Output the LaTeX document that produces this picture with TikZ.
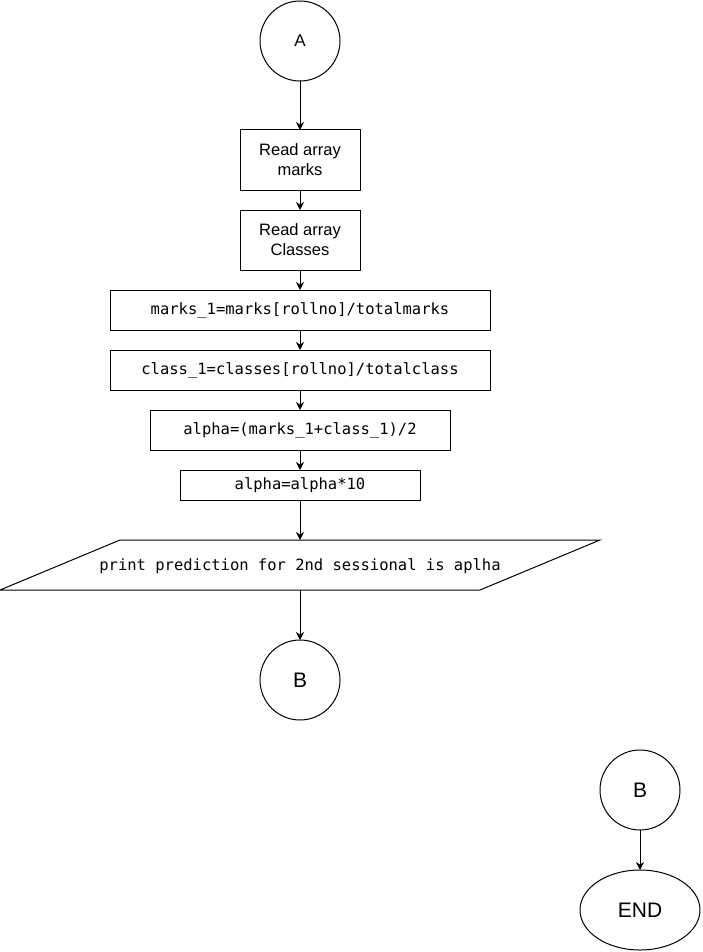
\documentclass[tikz,border=0pt]{standalone}
\usepackage{fontspec}
\setmainfont{Liberation Sans}
\newfontfamily\codefont{DejaVu Sans Mono}
\usetikzlibrary{arrows.meta,shapes.geometric}
\begin{document}
\begin{tikzpicture}[x=1pt,y=-1pt,
  every node/.style={inner sep=0pt,outer sep=0pt},
  conn/.style={draw=black,line width=1pt,circle,minimum size=80pt,font=\fontsize{17}{20}\selectfont},
  bigconn/.style={conn,font=\fontsize{21}{25}\selectfont},
  procbox/.style={draw=black,line width=1pt,rectangle,align=center,font=\fontsize{16.5}{20}\selectfont},
  codebox/.style={draw=black,line width=1pt,rectangle,font=\codefont\fontsize{15.5}{19}\selectfont},
  flow/.style={draw=black,line width=1pt,-{Stealth[length=8pt,width=8pt]}}
]
\useasboundingbox (0,0) rectangle (702,952);
\fill[white] (0,0) rectangle (702,952);

\node[conn] (A) at (300,41) {A};
\node[procbox,minimum width=120pt,minimum height=60pt] (r1) at (300,160) {Read array\\marks};
\node[procbox,minimum width=120pt,minimum height=60pt] (r2) at (300,240) {Read array\\Classes};
\node[codebox,minimum width=380pt,minimum height=40pt] (m1) at (300,310) {marks\_1=marks[rollno]/totalmarks};
\node[codebox,minimum width=380pt,minimum height=40pt] (c1) at (300,370) {class\_1=classes[rollno]/totalclass};
\node[codebox,minimum width=300pt,minimum height=40pt] (al) at (300,430) {alpha=(marks\_1+class\_1)/2};
\node[codebox,minimum width=240pt,minimum height=30pt] (a10) at (300,485) {alpha=alpha*10};

\coordinate (ptl) at (120,540);
\coordinate (ptr) at (600,540);
\coordinate (pbr) at (480,590);
\coordinate (pbl) at (0,590);
\draw[line width=1pt] (ptl) -- (ptr) -- (pbr) -- (pbl) -- cycle;
\node[font=\codefont\fontsize{15.5}{19}\selectfont] (pr) at (300,566) {print prediction for 2nd sessional is aplha};
\coordinate (ptop) at (300,540);
\coordinate (pbot) at (300,590);

\node[bigconn] (B1) at (300,680) {B};
\node[bigconn] (B2) at (640,790) {B};
\node[draw=black,line width=1pt,ellipse,minimum width=120pt,minimum height=80pt,font=\fontsize{21}{25}\selectfont] (E) at (640,910) {END};

\draw[flow] (A) -- (r1);
\draw[flow] (r1) -- (r2);
\draw[flow] (r2) -- (m1);
\draw[flow] (m1) -- (c1);
\draw[flow] (c1) -- (al);
\draw[flow] (al) -- (a10);
\draw[flow] (a10) -- (ptop);
\draw[flow] (pbot) -- (B1);
\draw[flow] (B2) -- (E);
\end{tikzpicture}
\end{document}
